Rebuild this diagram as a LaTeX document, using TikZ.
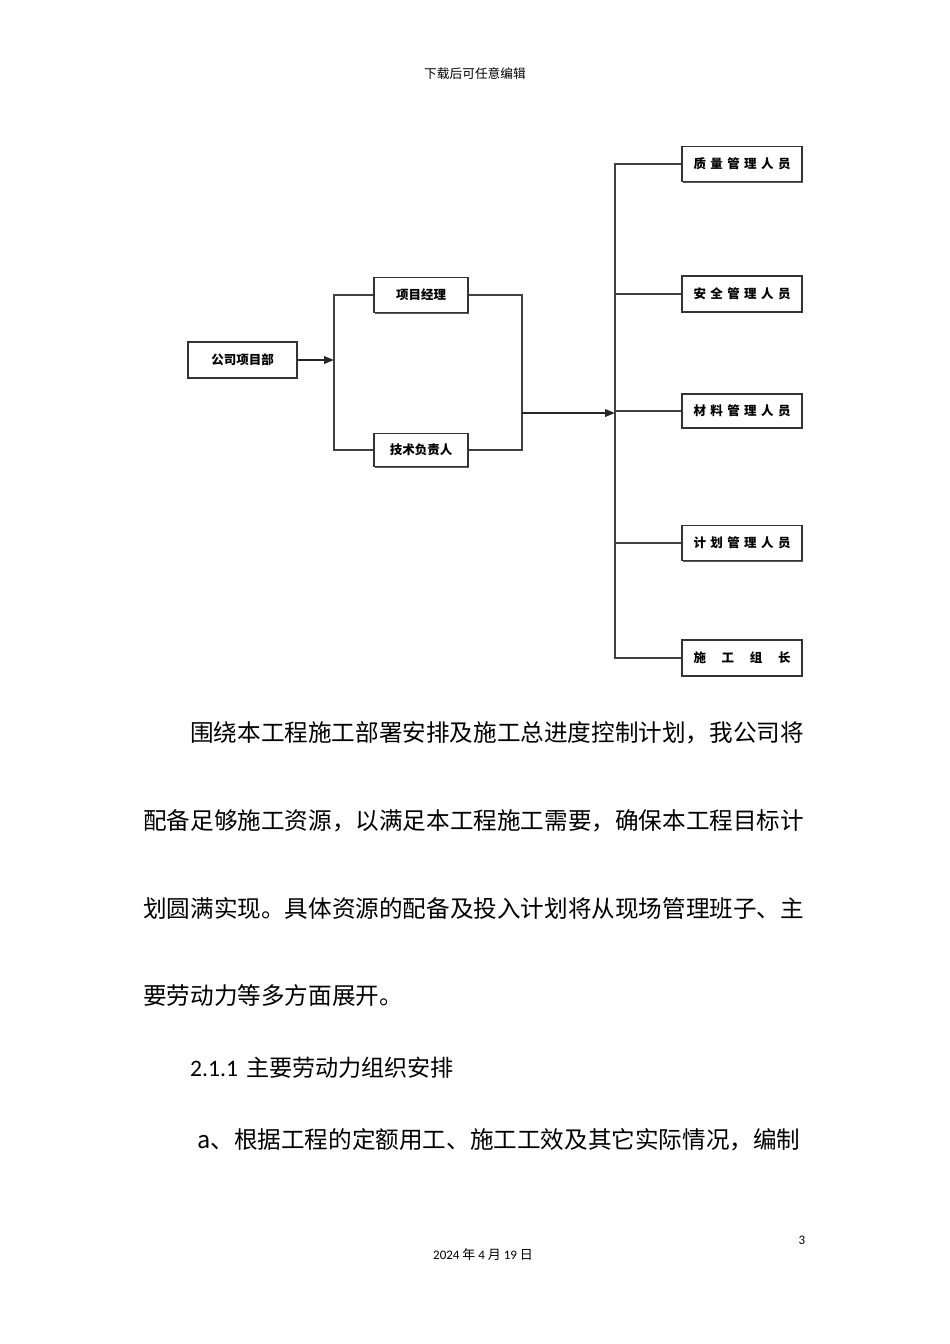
\documentclass[tikz,border=0pt]{standalone}
\usepackage{fontspec}
\newfontfamily\cjk{Noto Sans CJK SC}
\newfontfamily\carl{Carlito}
\usetikzlibrary{arrows.meta,shadows}

\begin{document}
\begin{tikzpicture}
[x=1pt,y=-1pt,%
  every node/.style={inner sep=0pt,font=\cjk},%
  box/.style={rectangle,draw=black!80,line width=1.3pt,fill=white,
    drop shadow={shadow xshift=1.2pt,shadow yshift=-1.2pt,fill=black!65,opacity=1},
    font=\cjk\bfseries\fontsize{12.5}{14}\selectfont},%
  link/.style={-,line width=1.4pt,black!75},%
  flow/.style={-{Triangle[length=10pt,width=7.5pt]},line width=2pt,black!85},%
  para/.style={anchor=west,font=\cjk\fontsize{23.6}{28}\selectfont}]
\useasboundingbox[fill=white] (0,0) rectangle (950,1344);
% header and footer
\node[font=\cjk\fontsize{12.7}{14}\selectfont] (hd) at (475,74) {下载后可任意编辑};
\node[font=\cjk\fontsize{13}{15}\selectfont] (ft) at (483,1255) {{\carl 2024} 年 {\carl 4} 月 {\carl 19} 日};
\node[font=\carl\fontsize{13}{15}\selectfont] (pg) at (802,1240) {3};
% left part
\node[box,minimum width=109pt,minimum height=36pt] (gs) at (242.5,360) {公司项目部};
\node[box,minimum width=94pt,minimum height=35pt] (xm) at (421,295) {项目经理};
\node[box,minimum width=94pt,minimum height=33pt] (js) at (421,450) {技术负责人};
% right part
\node[box,minimum width=120pt,minimum height=35pt] (r1) at (742,164)
  {\makebox[97pt]{质\hfill 量\hfill 管\hfill 理\hfill 人\hfill 员}};
\node[box,minimum width=120pt,minimum height=36pt] (r2) at (742,294)
  {\makebox[97pt]{安\hfill 全\hfill 管\hfill 理\hfill 人\hfill 员}};
\node[box,minimum width=120pt,minimum height=34pt] (r3) at (742,411)
  {\makebox[97pt]{材\hfill 料\hfill 管\hfill 理\hfill 人\hfill 员}};
\node[box,minimum width=120pt,minimum height=35pt] (r4) at (742,543)
  {\makebox[97pt]{计\hfill 划\hfill 管\hfill 理\hfill 人\hfill 员}};
\node[box,minimum width=120pt,minimum height=36pt] (r5) at (742,658)
  {\makebox[97pt]{施\hfill 工\hfill 组\hfill 长}};
% connectors
\coordinate (lb) at (334,445);
\coordinate (rb) at (522,413);
\coordinate (bus) at (615,413);
\draw[link] (xm.west) -| (lb) |- (js.west);
\draw[link] (xm.east) -| (rb) |- (js.east);
\draw[flow] (gs.east) -- (gs.east -| lb);
\draw[flow] (rb) -- (bus);
\draw[link] (r1.west) -- (r1.west -| bus) -- (r5.west -| bus) -- (r5.west);
\foreach \i in {2,3,4}
  \draw[link] (r\i.west) -- (r\i.west -| bus);
% text
\node[para] (p1) at (190,733) {围绕本工程施工部署安排及施工总进度控制计划，我公司将};
\node[para] (p2) at (143,821) {配备足够施工资源，以满足本工程施工需要，确保本工程目标计};
\node[para] (p3) at (143,908) {划圆满实现。具体资源的配备及投入计划将从现场管理班子、主};
\node[para] (p4) at (143,995) {要劳动力等多方面展开。};
\node[para] (h1) at (190,1068) {{\carl 2.1.1}\hspace{8pt}\fontsize{23.1}{28}\selectfont 主要劳动力组织安排};
\node[para] (p5) at (197,1140) {a、根据工程的定额用工、施工工效及其它实际情况，编制};
\end{tikzpicture}
\end{document}
